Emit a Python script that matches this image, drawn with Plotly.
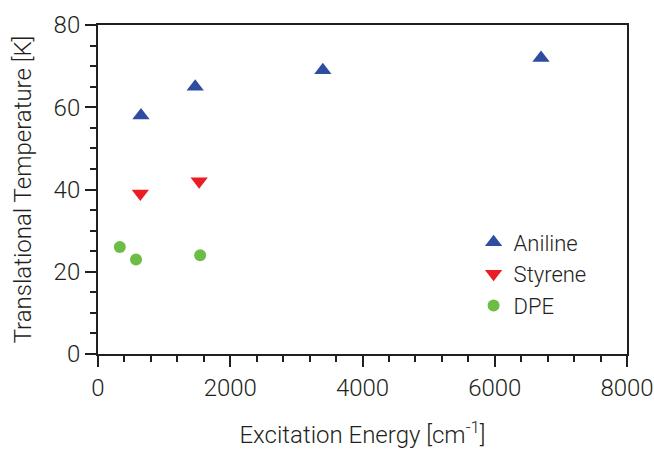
import plotly.graph_objects as go

aniline_x = [650, 1470, 3400, 6700]
aniline_y = [58, 65, 69, 72]
styrene_x = [640, 1530]
styrene_y = [39, 42]
dpe_x = [330, 575, 1545]
dpe_y = [26, 23, 24]

x_title = "Excitation Energy [cm<sup>-1</sup>]"
y_title = "Translational Temperature [K]"

FAM = "Roboto, Liberation Sans, sans-serif"
TICKFONT = dict(family=FAM, size=24, color="#231f20", weight=300)
TITLEFONT = dict(family=FAM, size=24, color="#231f20", weight=300)
LEGFONT = dict(family=FAM, size=22, color="#231f20", weight=300)

fig = go.Figure()
fig.add_trace(go.Scatter(x=aniline_x, y=aniline_y, mode="markers", name="Aniline",
                         marker=dict(symbol="triangle-up", size=15, color="#2e4da0")))
fig.add_trace(go.Scatter(x=styrene_x, y=styrene_y, mode="markers", name="Styrene",
                         marker=dict(symbol="triangle-down", size=15, color="#ec1c24")))
fig.add_trace(go.Scatter(x=dpe_x, y=dpe_y, mode="markers", name="DPE",
                         marker=dict(symbol="circle", size=12, color="#6cbd45")))

axis_common = dict(showline=True, linecolor="#231f20", linewidth=2, mirror=True,
                   ticks="outside", tickcolor="#231f20", tickwidth=2, ticklen=11,
                   showgrid=False, zeroline=False, tickfont=TICKFONT)

fig.update_xaxes(range=[0, 8000], tickvals=[0, 2000, 4000, 6000, 8000],
                 minor=dict(ticks="outside", ticklen=6, tickwidth=2, tickcolor="#231f20", dtick=400),
                 title=dict(text=x_title, font=TITLEFONT, standoff=27), **axis_common)
fig.update_yaxes(range=[0, 80], tickvals=[0, 20, 40, 60, 80],
                 minor=dict(ticks="outside", ticklen=6, tickwidth=2, tickcolor="#231f20", dtick=5),
                 title=dict(text=y_title, font=TITLEFONT, standoff=15), **axis_common)

fig.update_layout(
    width=654, height=449,
    margin=dict(l=98, r=27, t=25, b=95, autoexpand=False),
    paper_bgcolor="white", plot_bgcolor="white",
    font=TICKFONT,
    showlegend=True,
    legend=dict(x=0.71, y=0.403, xanchor="left", yanchor="top", bgcolor="rgba(0,0,0,0)",
                font=LEGFONT, tracegroupgap=0, itemwidth=30),
)

# remove the browser's default page margin so the figure fills the window exactly
fig.write_html("out.html", config={"displayModeBar": False},
               post_script="document.body.style.margin='0';document.body.style.overflow='hidden';")
